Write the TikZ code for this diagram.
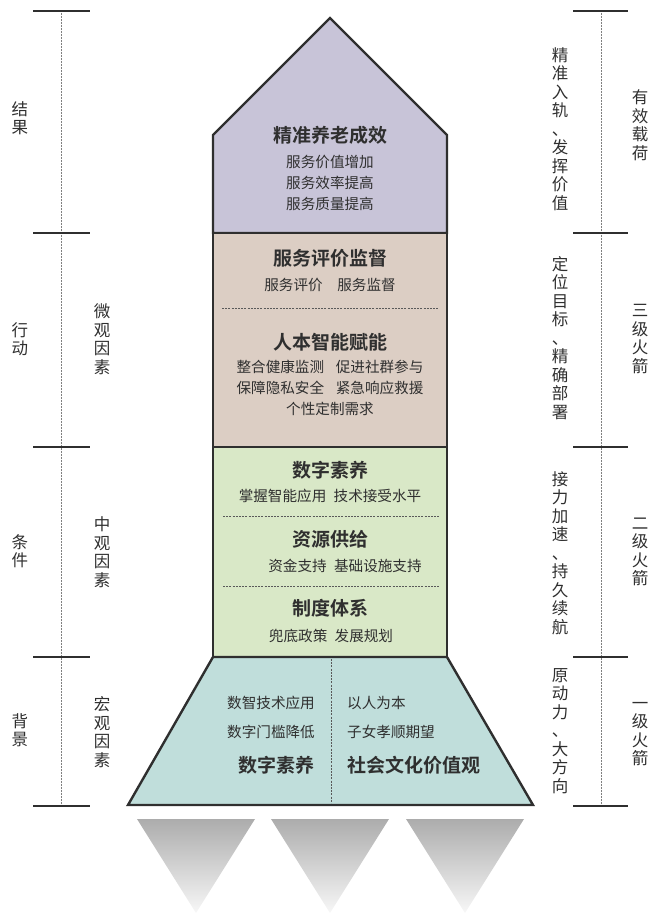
\documentclass[tikz,border=0pt]{standalone}
\usepackage{fontspec}
\setmainfont{Noto Sans CJK SC}[BoldFont={Noto Sans CJK SC Bold}]
\usetikzlibrary{positioning}
\definecolor{linecol}{HTML}{2F2F2F}
\definecolor{payload}{HTML}{C8C4D8}
\definecolor{stagethree}{HTML}{DCCEC4}
\definecolor{stagetwo}{HTML}{D9E8C7}
\definecolor{stageone}{HTML}{C0DEDB}
\tikzset{
  stage/.style    = {draw=linecol, line width=2.4pt, line join=miter},
  title/.style    = {font=\bfseries\fontsize{19}{21}\selectfont, text=linecol, inner sep=0pt},
  item/.style     = {font=\fontsize{14.6}{21}\selectfont, text=linecol, align=center, inner sep=0pt},
  vlabel/.style   = {font=\fontsize{16.5}{18.5}\selectfont, text=linecol, align=center, inner sep=0pt},
  tickmark/.style = {line width=1.2pt, draw=linecol},
  guide/.style    = {densely dotted, line width=0.5pt, gray},
  divider/.style  = {dash pattern=on 2pt off 1.2pt, line width=0.5pt, gray!70!black},
  nozzle/.style   = {top color=gray!65, bottom color=gray!6, draw=none},
}

\begin{document}
\begin{tikzpicture}[x=1pt,y=-1pt]
  \useasboundingbox (0,0) rectangle (657,918);

  % ---- brackets ----------------------------------------------------------
  \draw[guide] (61,11) -- (61,806);
  \draw[guide] (601,11) -- (601,806);
  \foreach \y in {11,233,447,657,806} {
    \draw[tickmark] (33,\y) -- (90,\y);
    \draw[tickmark] (573,\y) -- (628,\y);
  }
  \node[vlabel] (result)    at (20,118) {结\\果};
  \node[vlabel] (action)    at (20,339) {行\\动};
  \node[vlabel] (cond)      at (20,551) {条\\件};
  \node[vlabel] (backgr)    at (20,730) {背\\景};
  \node[vlabel] (micro)     at (102,339) {微\\观\\因\\素};
  \node[vlabel] (meso)      at (102,552) {中\\观\\因\\素};
  \node[vlabel] (macro)     at (102,732) {宏\\观\\因\\素};

  \node[vlabel] (orbit)     at (560,129) {精\\准\\入\\轨\\、\\发\\挥\\价\\值};
  \node[vlabel] (deploy)    at (560,338) {定\\位\\目\\标\\、\\精\\确\\部\\署};
  \node[vlabel] (relay)     at (560,553) {接\\力\\加\\速\\、\\持\\久\\续\\航};
  \node[vlabel] (drive)     at (560,731) {原\\动\\力\\、\\大\\方\\向};
  \node[vlabel] (load)      at (640,125) {有\\效\\载\\荷};
  \node[vlabel] (third)     at (640,339) {三\\级\\火\\箭};
  \node[vlabel] (second)    at (640,552) {二\\级\\火\\箭};
  \node[vlabel] (first)     at (640,734) {一\\级\\火\\箭};

  % ---- rocket body -------------------------------------------------------
  \draw[stage,fill=payload] (213,233) -- (213,135) -- (330,18) -- (447,135) -- (447,233) -- cycle;
  \draw[stage,fill=stagethree] (213,233) rectangle (447,447);
  \draw[stage,fill=stagetwo] (213,447) rectangle (447,657);
  \draw[stage,fill=stageone] (213,657) -- (447,657) -- (533,805) -- (128,805) -- cycle;
  \draw[divider] (222,308) -- (439,308);
  \draw[divider] (223,516) -- (439,516);
  \draw[divider] (223,586) -- (439,586);
  \draw[divider] (331,659) -- (331,803);

  % ---- nozzles -----------------------------------------------------------
  \foreach \cx in {196,330,465}
    \shade[nozzle] (\cx-59,819) -- (\cx+59,819) -- (\cx,913) -- cycle;

  % ---- payload -----------------------------------------------------------
  \node[title] (effect) at (330,135) {精准养老成效};
  \node[item]  (effectitems) at (330,183) {服务价值增加\\服务效率提高\\服务质量提高};

  % ---- third stage -------------------------------------------------------
  \node[title] (evalhd) at (330,258) {服务评价监督};
  \node[item]  (evalitems) at (330,285) {服务评价\hspace{1em}服务监督};
  \node[title] (empowerhd) at (330,342) {人本智能赋能};
  \node[item]  (empoweritems) at (330,388)
      {整合健康监测\hspace{0.8em}促进社群参与\\保障隐私安全\hspace{0.8em}紧急响应救援\\个性定制需求};

  % ---- second stage ------------------------------------------------------
  \node[title] (literacyhd) at (330,470) {数字素养};
  \node[item]  (literacyitems) at (330,496) {掌握智能应用\hspace{0.5em}技术接受水平};
  \node[title] (supplyhd) at (330,539) {资源供给};
  \node[item]  (supplyitems) at (345,566) {资金支持\hspace{0.5em}基础设施支持};
  \node[title] (systemhd) at (330,608) {制度体系};
  \node[item]  (systemitems) at (331,636) {兜底政策\hspace{0.5em}发展规划};

  % ---- first stage -------------------------------------------------------
  \node[item,anchor=east]  (tech)    at (315,703) {数智技术应用};
  \node[item,anchor=east]  (barrier) at (315,732) {数字门槛降低};
  \node[title,anchor=east] (digital) at (315,765) {数字素养};
  \node[item,anchor=west]  (people)  at (347,703) {以人为本};
  \node[item,anchor=west]  (filial)  at (347,732) {子女孝顺期望};
  \node[title,anchor=west] (culture) at (347,765) {社会文化价值观};
\end{tikzpicture}
\end{document}
